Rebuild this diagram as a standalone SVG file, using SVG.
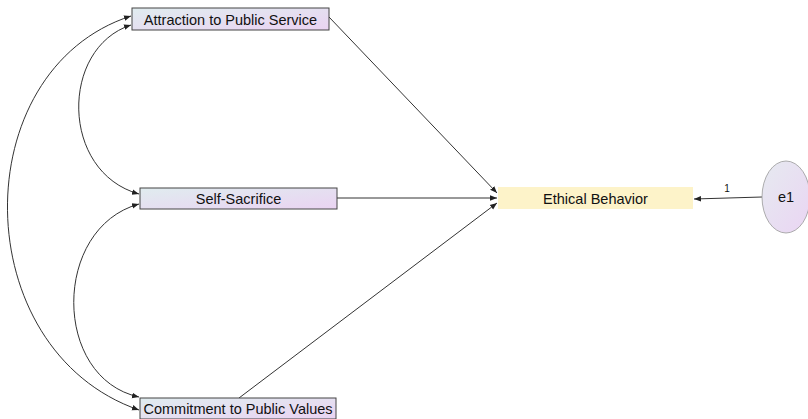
<svg xmlns="http://www.w3.org/2000/svg" width="808" height="419" viewBox="0 0 808 419">
  <defs>
    <linearGradient id="obs" x1="0" y1="0" x2="1" y2="1">
      <stop offset="0" stop-color="#e0ecef"/>
      <stop offset="1" stop-color="#ead3f2"/>
    </linearGradient>
    <linearGradient id="lat" x1="0" y1="0" x2="1" y2="1">
      <stop offset="0" stop-color="#e6eaf0"/>
      <stop offset="1" stop-color="#ead5f3"/>
    </linearGradient>
    <marker id="tip" viewBox="0 0 10 10" refX="10" refY="5" markerWidth="7" markerHeight="7" markerUnits="userSpaceOnUse" orient="auto">
      <path d="M0,1 L10,5 L0,9 Z" fill="#222"/>
    </marker>
    <marker id="tail" viewBox="0 0 10 10" refX="0" refY="5" markerWidth="7" markerHeight="7" markerUnits="userSpaceOnUse" orient="auto">
      <path d="M10,1 L0,5 L10,9 Z" fill="#222"/>
    </marker>
  </defs>
  <style>
    .box { fill: url(#obs); stroke: #444; stroke-width: 1; }
    .lbl { font-family: "Liberation Sans", Arial, sans-serif; font-size: 14.5px; fill: #111; text-anchor: middle; dominant-baseline: central; }
    .ln { fill: none; stroke: #333; stroke-width: 1; }
  </style>
  <rect width="808" height="419" fill="#ffffff"/>

  <g id="connectors">
    <line class="ln" x1="329" y1="17" x2="497" y2="193" marker-end="url(#tip)"/>
    <line class="ln" x1="337" y1="198" x2="497" y2="198" marker-end="url(#tip)"/>
    <line class="ln" x1="239" y1="398" x2="497" y2="203" marker-end="url(#tip)"/>
    <line class="ln" x1="762" y1="197" x2="694" y2="199" marker-end="url(#tip)"/>
    <text class="lbl" x="727" y="188" style="font-size:10px">1</text>
    <!-- covariances -->
    <path class="ln" d="M131,25 C60,48 60,172 139,194" marker-start="url(#tail)" marker-end="url(#tip)"/>
    <path class="ln" d="M131,16 C-36,70 -34,350 139,410" marker-start="url(#tail)" marker-end="url(#tip)"/>
    <path class="ln" d="M139,204 C52,228 52,378 139,397" marker-start="url(#tail)" marker-end="url(#tip)"/>
  </g>

  <g id="attraction">
    <rect class="box" x="132" y="8" width="197" height="22"/>
    <text class="lbl" x="230.5" y="19.5">Attraction to Public Service</text>
  </g>
  <g id="self-sacrifice">
    <rect class="box" x="140" y="188" width="197" height="21"/>
    <text class="lbl" x="238.5" y="199">Self-Sacrifice</text>
  </g>
  <g id="commitment">
    <rect class="box" x="140" y="398" width="196" height="21"/>
    <text class="lbl" x="238" y="409">Commitment to Public Values</text>
  </g>
  <g id="ethical-behavior">
    <rect x="498" y="187" width="195" height="22" fill="#fdf3c9"/>
    <text class="lbl" x="595.5" y="198.5">Ethical Behavior</text>
  </g>
  <g id="e1">
    <ellipse cx="786" cy="197" rx="24" ry="36" fill="url(#lat)" stroke="#999" stroke-width="0.8"/>
    <text class="lbl" x="786" y="197">e1</text>
  </g>
</svg>
